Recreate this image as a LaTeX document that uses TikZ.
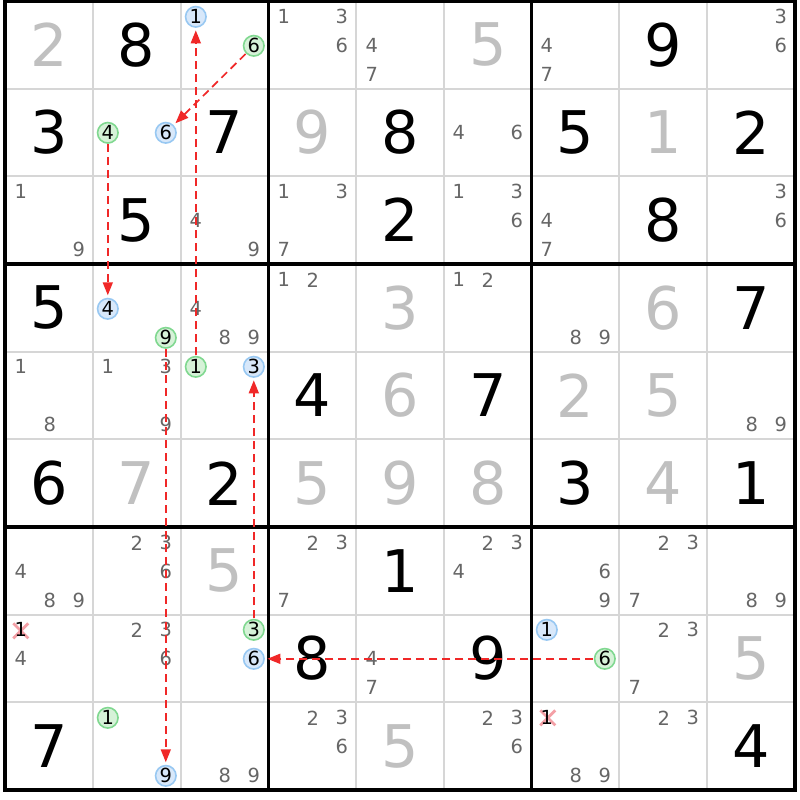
\documentclass[tikz,border=0pt]{standalone}
\usepackage{fontspec}
\setmainfont{DejaVu Sans}
\usetikzlibrary{arrows.meta}
\definecolor{solvedc}{HTML}{C0C0C0}
\definecolor{candc}{HTML}{666666}
\definecolor{gridthin}{HTML}{D6D6D6}
\definecolor{greenfill}{HTML}{D6F2D8}
\definecolor{greenline}{HTML}{80D890}
\definecolor{bluefill}{HTML}{D8E8FA}
\definecolor{blueline}{HTML}{98C8F2}
\definecolor{linkred}{HTML}{F02828}
\definecolor{xpink}{HTML}{F4A0A6}
\newcommand\bigfont{\fontsize{59}{59}\selectfont}
\newcommand\smallfont{\fontsize{19.5}{20}\selectfont}
\tikzset{
  given/.style={inner sep=0pt, font=\bigfont, text=black},
  solved/.style={inner sep=0pt, font=\bigfont, text=solvedc},
  cand/.style={inner sep=0pt, font=\smallfont, text=candc},
  greenc/.style={circle, draw=greenline, fill=greenfill, line width=1.6bp, minimum size=20.5bp, inner sep=0pt, font=\smallfont, text=black},
  bluec/.style={circle, draw=blueline, fill=bluefill, line width=1.6bp, minimum size=20.5bp, inner sep=0pt, font=\smallfont, text=black},
  struck/.style={inner sep=0pt, font=\smallfont, text=black},
  link/.style={draw=linkred, line width=1.7bp, dash pattern=on 8bp off 5bp, -{Triangle[length=13bp,width=10bp]}, shorten >=2.5bp, shorten <=0.5bp},
  xmark/.style={draw=xpink, line width=2.8bp},
  thinline/.style={draw=gridthin, line width=2bp},
  boxline/.style={draw=black, line width=3.2bp},
  border/.style={draw=black, line width=4bp}
}
% big digit: row, col, digit, style
\newcommand\bigd[4]{\node[#4] (d#1#2) at ({5+(#2+0.5)*87.78},{1+(#1+0.5)*87.67}) {#3};}
% candidates: row, col, list
\newcommand\cands[3]{\foreach \dd in {#3}{%
  \pgfmathtruncatemacro\kk{mod(\dd-1,3)}\pgfmathtruncatemacro\jj{int((\dd-1)/3)}%
  \node[cand] (c#1#2\dd) at ({floor(5+#2*87.78+15+29*\kk)+0.8},{floor(1+#1*87.67+15+29*\jj)+0.8}) {\dd};}}
% special candidate: row, col, digit, style, name
\newcommand\scand[5]{%
  \pgfmathtruncatemacro\kk{mod(#3-1,3)}\pgfmathtruncatemacro\jj{int((#3-1)/3)}%
  \node[#4] (#5) at ({floor(5+#2*87.78+15+29*\kk)+0.8},{floor(1+#1*87.67+15+29*\jj)+0.8}) {#3};}
\begin{document}
\begin{tikzpicture}[x=1bp,y=-1bp]
\fill[white] (0,0) rectangle (800,800);
\useasboundingbox (0,0) rectangle (800,800);
% grid
\foreach \i in {1,2,4,5,7,8}{
  \draw[thinline] ({5+\i*87.78},1) -- ({5+\i*87.78},790);
  \draw[thinline] (5,{1+\i*87.67}) -- (795,{1+\i*87.67});
}
\foreach \i in {3,6}{
  \draw[boxline] ({5+\i*87.78},1) -- ({5+\i*87.78},790);
  \draw[boxline] (5,{1+\i*87.67}) -- (795,{1+\i*87.67});
}
\draw[border] (5,1) rectangle (795,790);
% big digits
\bigd{0}{0}{2}{solved}\bigd{0}{1}{8}{given}\bigd{0}{5}{5}{solved}\bigd{0}{7}{9}{given}
\bigd{1}{0}{3}{given}\bigd{1}{2}{7}{given}\bigd{1}{3}{9}{solved}\bigd{1}{4}{8}{given}
\bigd{1}{6}{5}{given}\bigd{1}{7}{1}{solved}\bigd{1}{8}{2}{given}
\bigd{2}{1}{5}{given}\bigd{2}{4}{2}{given}\bigd{2}{7}{8}{given}
\bigd{3}{0}{5}{given}\bigd{3}{4}{3}{solved}\bigd{3}{7}{6}{solved}\bigd{3}{8}{7}{given}
\bigd{4}{3}{4}{given}\bigd{4}{4}{6}{solved}\bigd{4}{5}{7}{given}\bigd{4}{6}{2}{solved}\bigd{4}{7}{5}{solved}
\bigd{5}{0}{6}{given}\bigd{5}{1}{7}{solved}\bigd{5}{2}{2}{given}\bigd{5}{3}{5}{solved}\bigd{5}{4}{9}{solved}
\bigd{5}{5}{8}{solved}\bigd{5}{6}{3}{given}\bigd{5}{7}{4}{solved}\bigd{5}{8}{1}{given}
\bigd{6}{2}{5}{solved}\bigd{6}{4}{1}{given}
\bigd{7}{3}{8}{given}\bigd{7}{5}{9}{given}\bigd{7}{8}{5}{solved}
\bigd{8}{0}{7}{given}\bigd{8}{4}{5}{solved}\bigd{8}{8}{4}{given}
% candidates
\cands{0}{3}{1,3,6}\cands{0}{4}{4,7}\cands{0}{6}{4,7}\cands{0}{8}{3,6}
\cands{1}{5}{4,6}
\cands{2}{0}{1,9}\cands{2}{2}{4,9}\cands{2}{3}{1,3,7}\cands{2}{5}{1,3,6}\cands{2}{6}{4,7}\cands{2}{8}{3,6}
\cands{3}{2}{4,8,9}\cands{3}{3}{1,2}\cands{3}{5}{1,2}\cands{3}{6}{8,9}
\cands{4}{0}{1,8}\cands{4}{1}{1,3,9}\cands{4}{8}{8,9}
\cands{6}{0}{4,8,9}\cands{6}{1}{2,3,6}\cands{6}{3}{2,3,7}\cands{6}{5}{2,3,4}\cands{6}{6}{6,9}\cands{6}{7}{2,3,7}\cands{6}{8}{8,9}
\cands{7}{0}{4}\cands{7}{1}{2,3,6}\cands{7}{4}{4,7}\cands{7}{7}{2,3,7}
\cands{8}{2}{8,9}\cands{8}{3}{2,3,6}\cands{8}{5}{2,3,6}\cands{8}{6}{8,9}\cands{8}{7}{2,3}
% struck candidates
\coordinate (xa) at (20.8,630.8);
\coordinate (xb) at (547.8,717.8);
\foreach \p in {xa,xb}{
  \draw[xmark] ([shift={(-7.5,-7.5)}]\p) -- ([shift={(7.5,7.5)}]\p);
  \draw[xmark] ([shift={(-7.5,7.5)}]\p) -- ([shift={(7.5,-7.5)}]\p);
}
\scand{7}{0}{1}{struck}{s1a}
\scand{8}{6}{1}{struck}{s1b}
% circled candidates
\scand{0}{2}{1}{bluec}{b1}\scand{0}{2}{6}{greenc}{g6a}
\scand{1}{1}{4}{greenc}{g4}\scand{1}{1}{6}{bluec}{b6a}
\scand{3}{1}{4}{bluec}{b4}\scand{3}{1}{9}{greenc}{g9}
\scand{4}{2}{1}{greenc}{g1}\scand{4}{2}{3}{bluec}{b3}
\scand{7}{2}{3}{greenc}{g3}\scand{7}{2}{6}{bluec}{b6b}
\scand{7}{6}{1}{bluec}{b1b}\scand{7}{6}{6}{greenc}{g6b}
\scand{8}{1}{1}{greenc}{g1b}\scand{8}{1}{9}{bluec}{b9}
% links
\draw[link] (g6a) -- (b6a);
\draw[link] (g1) -- (b1);
\draw[link] (g4) -- (b4);
\draw[link] (g9) -- (b9);
\draw[link] (g3) -- (b3);
\draw[link] (g6b) -- (b6b);
\end{tikzpicture}
\end{document}
